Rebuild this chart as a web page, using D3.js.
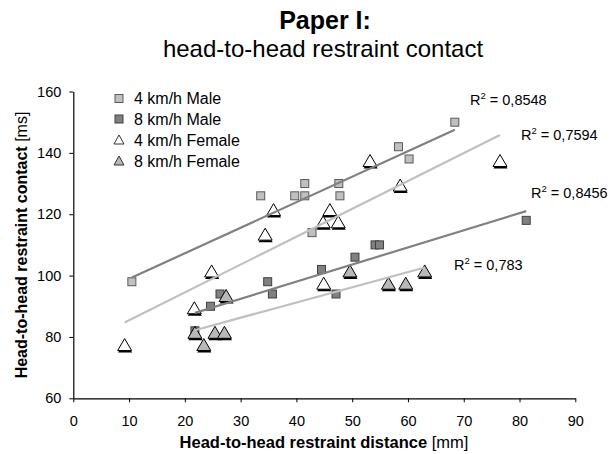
<!DOCTYPE html>
<html>
<head>
<meta charset="utf-8">
<script src="https://cdn.jsdelivr.net/npm/d3@7"></script>
<style>
  html, body { margin: 0; padding: 0; background: #fff; }
  svg { display: block; font-family: "Liberation Sans", Arial, sans-serif; }
</style>
</head>
<body>
<svg id="chart" width="610" height="454"></svg>
<script>
// Head-to-head restraint distance [mm] vs. contact time [ms]
const male4x = [10.5, 33.6, 39.7, 41.5, 41.5, 42.8, 47.6, 47.8, 58.3, 60.2, 68.4];
const male4y = [98, 126, 126, 126, 130, 114, 130, 126, 142, 138, 150];

const male8x = [21.8, 24.6, 26.3, 34.85, 35.7, 44.5, 47.1, 50.5, 54.1, 54.9, 81.2];
const male8y = [82, 90, 94, 98, 94, 102, 94, 106, 110, 110, 118];

const female4x = [9.2, 21.7, 24.8, 34.4, 35.9, 44.8, 44.9, 46.0, 47.5, 53.2, 58.6, 76.5];
const female4y = [78, 90, 102, 114, 122, 118, 98, 122, 118, 138, 130, 138];

const female8x = [21.8, 23.4, 25.4, 27.1, 27.4, 49.6, 56.5, 59.6, 63.0];
const female8y = [82, 78, 82, 82, 94, 102, 98, 98, 102];

const seriesNames = ["4 km/h Male", "8 km/h Male", "4 km/h Female", "8 km/h Female"];
const r2Labels = ["0,8548", "0,8456", "0,7594", "0,783"];

const xTicks = [0, 10, 20, 30, 40, 50, 60, 70, 80, 90];
const yTicks = [60, 80, 100, 120, 140, 160];

const svg = d3.select("#chart");

const x = d3.scaleLinear().domain([0, 90]).range([73.3, 575.3]);
const y = d3.scaleLinear().domain([60, 160]).range([398.3, 91.5]);

const series = [
  { name: seriesNames[0], xs: male4x, ys: male4y, shape: "square", fill: "#c0c0c0", stroke: "#5a5a5a", line: "#808080", r2: r2Labels[0], lx: 470, ly: 105 },
  { name: seriesNames[1], xs: male8x, ys: male8y, shape: "square", fill: "#808080", stroke: "#404040", line: "#808080", r2: r2Labels[1], lx: 531, ly: 198 },
  { name: seriesNames[2], xs: female4x, ys: female4y, shape: "triangle", fill: "#ffffff", stroke: "#000", line: "#c0c0c0", r2: r2Labels[2], lx: 521, ly: 140 },
  { name: seriesNames[3], xs: female8x, ys: female8y, shape: "triangle", fill: "#b8b8b8", stroke: "#000", line: "#c0c0c0", r2: r2Labels[3], lx: 454, ly: 270 }
];

// Titles
svg.append("text").attr("x", 325).attr("y", 29).attr("text-anchor", "middle")
  .attr("font-size", 25).attr("font-weight", "bold").text("Paper I:");
svg.append("text").attr("x", 323).attr("y", 57).attr("text-anchor", "middle")
  .attr("font-size", 24).text("head-to-head restraint contact");

// Axes
const xAxis = svg.append("g").attr("transform", `translate(0,${y(60)})`)
  .call(d3.axisBottom(x).tickValues(xTicks).tickSize(4).tickSizeOuter(0).tickPadding(13));
const yAxis = svg.append("g").attr("transform", `translate(${x(0)},0)`)
  .call(d3.axisLeft(y).tickValues(yTicks).tickSize(4).tickSizeOuter(0).tickPadding(8));
[xAxis, yAxis].forEach(g => {
  g.selectAll("path.domain").attr("stroke", "#000").attr("stroke-width", 1.2);
  g.selectAll(".tick line").attr("stroke", "#000");
  g.selectAll(".tick text").attr("font-size", 14.5).attr("fill", "#000")
    .attr("font-family", "Liberation Sans, Arial, sans-serif");
});

// Axis titles
const xt = svg.append("text").attr("x", 324).attr("y", 448).attr("text-anchor", "middle").attr("font-size", 16.5);
xt.append("tspan").attr("font-weight", "bold").text("Head-to-head restraint distance");
xt.append("tspan").text(" [mm]");
const yt = svg.append("text").attr("transform", `translate(27,245) rotate(-90)`).attr("text-anchor", "middle").attr("font-size", 16);
yt.append("tspan").attr("font-weight", "bold").text("Head-to-head restraint contact");
yt.append("tspan").text(" [ms]");

// Marker shapes
const triPath = "M0,-4.5L7,7.5L-7,7.5Z";
function drawMarker(g, s, px, py) {
  if (s.shape === "square") {
    g.append("rect").attr("x", px - 4).attr("y", py - 4).attr("width", 8).attr("height", 8)
      .attr("fill", s.fill).attr("stroke", s.stroke).attr("stroke-width", 1);
  } else {
    g.append("path").attr("d", triPath).attr("transform", `translate(${px + 0.5},${py + 2})`)
      .attr("fill", "#000");
    g.append("path").attr("d", triPath).attr("transform", `translate(${px},${py})`)
      .attr("fill", s.fill).attr("stroke", s.stroke).attr("stroke-width", 1);
  }
}

const pts = svg.append("g");
series.forEach(s => {
  s.xs.forEach((v, i) => drawMarker(pts, s, x(v), y(s.ys[i])));
});

// Linear trend lines (least squares) over each series' x-range
function fit(xs, ys) {
  const mx = d3.mean(xs), my = d3.mean(ys);
  let sxy = 0, sxx = 0;
  xs.forEach((v, i) => { sxy += (v - mx) * (ys[i] - my); sxx += (v - mx) * (v - mx); });
  const b = sxy / sxx;
  return v => my + b * (v - mx);
}
const lines = svg.append("g");
series.forEach(s => {
  const f = fit(s.xs, s.ys);
  const [x0, x1] = d3.extent(s.xs);
  lines.append("line")
    .attr("x1", x(x0)).attr("y1", y(f(x0)))
    .attr("x2", x(x1)).attr("y2", y(f(x1)))
    .attr("stroke", s.line).attr("stroke-width", 2.2);
});

// R² labels
series.forEach(s => {
  const t = svg.append("text").attr("x", s.lx).attr("y", s.ly).attr("font-size", 14.5);
  t.append("tspan").text("R");
  t.append("tspan").attr("font-size", 9.5).attr("dy", -6).text("2");
  t.append("tspan").attr("dy", 6).text(" = " + s.r2);
});

// Legend
const legend = svg.append("g");
const legendY = [98.5, 119, 140, 161];
series.forEach((s, i) => {
  const cy = legendY[i];
  if (s.shape === "square") {
    legend.append("rect").attr("x", 115).attr("y", cy - 4).attr("width", 8).attr("height", 8)
      .attr("fill", s.fill).attr("stroke", s.stroke);
  } else {
    legend.append("path").attr("d", "M0,-5L5,4L-5,4Z").attr("transform", `translate(119,${cy})`)
      .attr("fill", s.fill).attr("stroke", "#333");
  }
  legend.append("text").attr("x", 134).attr("y", cy + 5.5).attr("font-size", 16).text(s.name);
});
</script>
</body>
</html>
